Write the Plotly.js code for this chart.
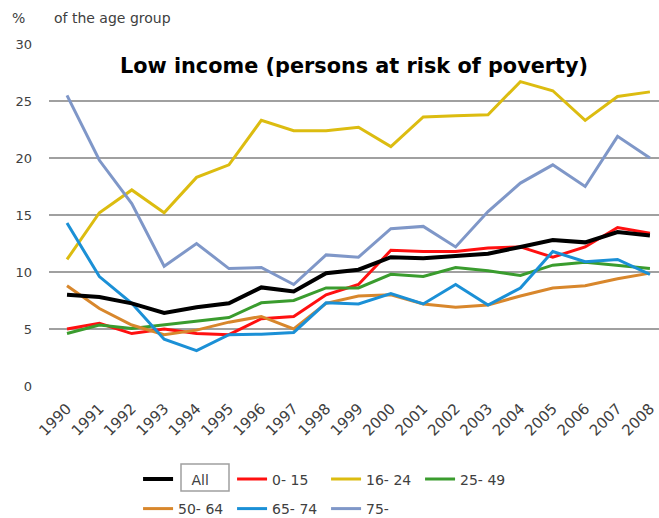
<!DOCTYPE html>
<html>
<head>
<meta charset="utf-8">
<script src="https://cdn.plot.ly/plotly-3.0.1.min.js"></script>
<style>html,body{margin:0;padding:0;background:#fff;}#chart{width:659px;height:518px;}</style>
</head>
<body>
<div id="chart"></div>
<script>
const years = ["1990","1991","1992","1993","1994","1995","1996","1997","1998","1999","2000","2001","2002","2003","2004","2005","2006","2007","2008"];
const seriesNames = ["\u00a0\u00a0\u00a0All","0- 15","16- 24","25- 49","50- 64","65- 74","75-"];
const all     = [8.0,7.8,7.25,6.4,6.9,7.25,8.65,8.3,9.9,10.2,11.3,11.2,11.4,11.6,12.2,12.8,12.6,13.5,13.2];
const age0_15 = [5.0,5.5,4.6,5.0,4.6,4.5,5.9,6.1,8.0,8.9,11.9,11.8,11.8,12.1,12.2,11.3,12.2,13.9,13.4];
const age16_24= [11.1,15.2,17.2,15.2,18.3,19.4,23.3,22.4,22.4,22.7,21.0,23.6,23.7,23.8,26.7,25.9,23.3,25.4,25.8];
const age25_49= [4.6,5.35,5.05,5.35,5.7,6.0,7.3,7.5,8.6,8.6,9.8,9.6,10.4,10.1,9.7,10.6,10.85,10.6,10.3];
const age50_64= [8.8,6.8,5.35,4.5,4.9,5.6,6.1,5.0,7.25,7.9,8.0,7.2,6.9,7.1,7.9,8.6,8.8,9.4,9.9];
const age65_74= [14.3,9.6,7.25,4.1,3.1,4.5,4.55,4.7,7.3,7.2,8.1,7.2,8.9,7.1,8.6,11.8,10.9,11.1,9.8];
const age75   = [25.5,19.8,16.0,10.5,12.5,10.3,10.4,8.9,11.5,11.3,13.8,14.0,12.2,15.3,17.8,19.4,17.5,21.9,20.0];
const yTicks = [0,5,10,15,20,25,30];

const values = [all, age0_15, age16_24, age25_49, age50_64, age65_74, age75];
const colors = ["#000000","#ff1010","#dcbc10","#3a9c2e","#d8872c","#1b90d6","#7f97c8"];
const widths = [4,3,3,3,3,3,3];
const legendIds = ["legend","legend","legend","legend","legend2","legend2","legend2"];

const traces = seriesNames.map((n,i)=>({
  x: years, y: values[i], name: n, type: 'scatter', mode: 'lines',
  line: {color: colors[i], width: widths[i]}, legend: legendIds[i], legendrank: i + 1
}));
// draw black on top
const order = [1,2,3,4,5,6,0];
const data = order.map(i=>traces[i]);

const font = {family: 'DejaVu Sans, Verdana, sans-serif', color: '#404040'};
const legendCommon = {
  orientation: 'h', xanchor: 'left', yanchor: 'top', xref: 'paper', yref: 'container',
  font: {family: font.family, size: 14, color: '#404040'},
  entrywidth: 49, entrywidthmode: 'pixels', bgcolor: 'rgba(0,0,0,0)',
  traceorder: 'normal', itemwidth: 30
};
const layout = {
  width: 659, height: 518,
  margin: {l: 49, r: 0, t: 44, b: 132},
  paper_bgcolor: '#ffffff', plot_bgcolor: '#ffffff',
  showlegend: true,
  title: {text: '<b>Low income (persons at risk of poverty)</b>', font: {family: font.family, size: 20.8, color: '#000'},
          x: 0.5, xref: 'paper', xanchor: 'center', y: 0.937, yref: 'paper', yanchor: 'middle'},
  xaxis: {type: 'category', range: [-0.556, 18.28], showgrid: false, zeroline: false, showline: false, automargin: false,
          tickangle: -45, ticks: '', ticklabelstandoff: 10,
          tickfont: {family: font.family, size: 15, color: '#404040'}, fixedrange: true},
  yaxis: {range: [0, 30], tickvals: yTicks, ticktext: yTicks.map(String), showgrid: true, gridcolor: '#a0a0a0', gridwidth: 1.5,
          zeroline: false, showline: false, ticks: '', ticklabelstandoff: 16, automargin: false,
          tickfont: {family: font.family, size: 13, color: '#404040'}, fixedrange: true},
  legend: Object.assign({}, legendCommon, {x: 0.146, y: 1 - 463.5/518}),
  legend2: Object.assign({}, legendCommon, {x: 0.146, y: 1 - 493/518}),
  annotations: [
    {text: '%', xref: 'paper', yref: 'paper', x: (10-49)/610, y: (386-18)/342, xanchor: 'left', yanchor: 'middle', showarrow: false,
     font: {family: font.family, size: 14, color: '#404040'}},
    {text: 'of the age group', xref: 'paper', yref: 'paper', x: (52-49)/610, y: (386-18)/342, xanchor: 'left', yanchor: 'middle', showarrow: false,
     font: {family: font.family, size: 14, color: '#404040'}}
  ],
  shapes: [
    {type: 'rect', xref: 'paper', yref: 'paper', x0: (181-49)/610, x1: (229-49)/610, y0: (386-464)/342, y1: (386-491)/342,
     line: {color: '#a0a0a0', width: 1.5}, fillcolor: 'rgba(0,0,0,0)', layer: 'below'}
  ]
};
Plotly.newPlot('chart', data, layout, {displayModeBar: false, staticPlot: true});
</script>
</body>
</html>
